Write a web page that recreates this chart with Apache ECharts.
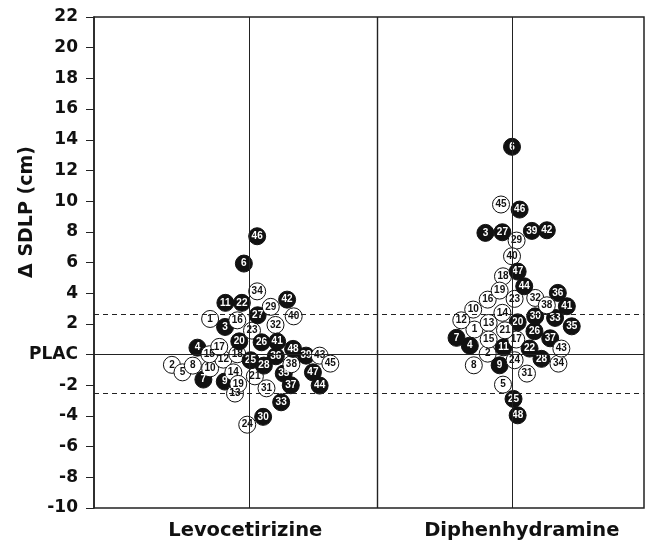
<!DOCTYPE html>
<html>
<head>
<meta charset="utf-8">
<script src="https://cdn.jsdelivr.net/npm/echarts@6/dist/echarts.min.js"></script>
<style>
  html, body { margin: 0; padding: 0; background: #fff; }
  #chart { width: 645px; height: 548px; }
</style>
</head>
<body>
<div id="chart"></div>
<script>
// treatment groups
var groups = ["Levocetirizine", "Diphenhydramine"];

// subject numbers 1..48 (same order for every array below)
var subjects = [];
for (var s = 1; s <= 48; s++) subjects.push(s);

// subjects drawn as black dots
var filledSubjects = [3, 4, 6, 7, 9, 11, 20, 22, 25, 26, 27, 28, 30, 33, 35, 36, 37, 39, 41, 42, 44, 46, 47, 48];

// change in SDLP vs placebo (cm), levocetirizine
var levoValues = [
  2.32, -0.67, 1.80, 0.45, -1.16, 5.93, -1.63, -0.72, -1.76, -0.90,
  3.37, -0.33, -2.54, -1.16, 0.02, 2.23, 0.50, 0.02, -1.91, 0.86,
  -1.42, 3.37, 1.56, -4.57, -0.37, 0.80, 2.56, -0.72, 3.11, -4.06,
  -2.20, 1.93, -3.11, 4.12, -1.24, -0.11, -2.00, -0.63, -0.07, 2.49,
  0.84, 3.58, -0.07, -2.02, -0.59, 7.71, -1.16, 0.37
];
// horizontal spread of each dot around the group line, levocetirizine
var levoSpread = [
  -2.56, -5.06, -1.58, -3.39, -4.37, -0.35, -3.00, -3.69, -1.60, -2.56,
  -1.56, -1.69, -0.93, -1.04, -2.61, -0.78, -1.96, -0.78, -0.72, -0.65,
  0.37, -0.48, 0.18, -0.13, 0.09, 0.81, 0.55, 0.96, 1.41, 0.91,
  1.13, 1.72, 2.09, 0.52, 2.26, 1.74, 2.72, 2.76, 3.72, 2.91,
  1.83, 2.48, 4.61, 4.61, 5.31, 0.52, 4.17, 2.87
];

// change in SDLP vs placebo (cm), diphenhydramine
var diphValues = [
  1.63, 0.06, 7.93, 0.58, -1.96, 13.54, 1.09, -0.70, -0.70, 2.93,
  0.47, 2.23, 2.06, 2.72, 0.98, 3.58, 0.98, 5.10, 4.17, 2.10,
  1.58, 0.39, 3.63, -0.37, -2.89, 1.52, 7.97, -0.28, 7.43, 2.49,
  -1.24, 3.69, 2.39, -0.59, 1.84, 4.02, 1.06, 3.21, 8.06, 6.41,
  3.15, 8.10, 0.39, 4.45, 9.78, 9.45, 5.41, -3.96
];
var diphSpread = [
  -2.46, -1.59, -1.74, -2.76, -0.59, 0.00, -3.63, -2.50, -0.81, -2.54,
  -0.55, -3.32, -1.53, -0.63, -1.53, -1.59, 0.28, -0.59, -0.81, 0.37,
  -0.46, 1.15, 0.17, 0.17, 0.10, 1.47, -0.63, 1.93, 0.30, 1.52,
  0.98, 1.52, 2.82, 3.04, 3.91, 3.00, 2.50, 2.28, 1.30, 0.00,
  3.59, 2.28, 3.23, 0.80, -0.72, 0.50, 0.37, 0.37
];

// reference lines
var upperLimit = 2.6;
var lowerLimit = -2.5;
var yTicks = [-10, 22, 2]; // min, max, step

// layout on the hidden x scale (0..36)
var levoCenter = 10.16;
var diphCenter = 27.36;
var panelDivider = 18.52;
var labelPos = [9.9, 28.0];

var chart = echarts.init(document.getElementById("chart"));

function buildPoints(center, values, spread) {
  return subjects.map(function (id, i) {
    var filled = filledSubjects.indexOf(id) >= 0;
    return {
      value: [center + spread[i], values[i], id],
      itemStyle: { color: filled ? "#111" : "#fff" },
      label: { color: filled ? "#fff" : "#111" }
    };
  });
}

var dotSeries = {
  type: "scatter",
  symbol: "circle",
  symbolSize: 17,
  z: 3,
  itemStyle: { borderColor: "#111", borderWidth: 1, opacity: 1 },
  label: {
    show: true,
    position: "inside",
    fontSize: 10,
    fontWeight: "bold",
    fontFamily: "'Liberation Sans Narrow', 'Liberation Sans', sans-serif",
    formatter: function (p) { return p.value[2]; }
  }
};

var thin = { color: "#222", width: 1, type: "solid" };
var dashed = { color: "#222", width: 1, type: [5, 4] };

var option = {
  animation: false,
  backgroundColor: "#fff",
  grid: {
    left: 94, right: 1, top: 17, bottom: 40,
    show: true, borderColor: "#222", borderWidth: 1.5
  },
  xAxis: {
    type: "value",
    min: 0,
    max: 36,
    axisLine: { show: false },
    axisTick: { show: false },
    splitLine: { show: false },
    axisLabel: {
      customValues: labelPos,
      margin: 13,
      color: "#111",
      fontSize: 19.5,
      fontWeight: "bold",
      fontFamily: "DejaVu Sans",
      formatter: function (v) {
        return v === labelPos[0] ? groups[0] : groups[1];
      }
    }
  },
  yAxis: {
    type: "value",
    min: yTicks[0],
    max: yTicks[1],
    interval: yTicks[2],
    axisLine: { show: true, lineStyle: { color: "#222", width: 1.5 } },
    axisTick: { show: true, inside: false, length: 8, lineStyle: { color: "#222", width: 1 } },
    splitLine: { show: false },
    axisLabel: {
      margin: 16,
      color: "#111",
      fontSize: 17,
      fontWeight: "bold",
      fontFamily: "DejaVu Sans",
      formatter: function (v) { return v === 0 ? "PLAC" : String(v); }
    }
  },
  graphic: [{
    type: "text",
    x: 27,
    y: 212,
    rotation: Math.PI / 2,
    style: {
      text: "\u0394 SDLP (cm)",
      font: "bold 19px 'DejaVu Sans'",
      fill: "#111",
      align: "center",
      verticalAlign: "middle",
      textAlign: "center",
      textVerticalAlign: "middle"
    }
  }],
  series: [
    {
      // reference lines only
      type: "scatter",
      data: [],
      z: 1,
      markLine: {
        silent: true,
        symbol: ["none", "none"],
        label: { show: false },
        lineStyle: thin,
        data: [
          { xAxis: panelDivider, lineStyle: { color: "#222", width: 1.4, type: "solid" } },
          { xAxis: levoCenter },
          { xAxis: diphCenter },
          { yAxis: 0 },
          { yAxis: upperLimit, lineStyle: dashed },
          { yAxis: lowerLimit, lineStyle: dashed }
        ]
      }
    },
    Object.assign({ name: groups[0], data: buildPoints(levoCenter, levoValues, levoSpread) }, dotSeries),
    Object.assign({ name: groups[1], data: buildPoints(diphCenter, diphValues, diphSpread) }, dotSeries)
  ]
};

chart.setOption(option);
</script>
</body>
</html>
